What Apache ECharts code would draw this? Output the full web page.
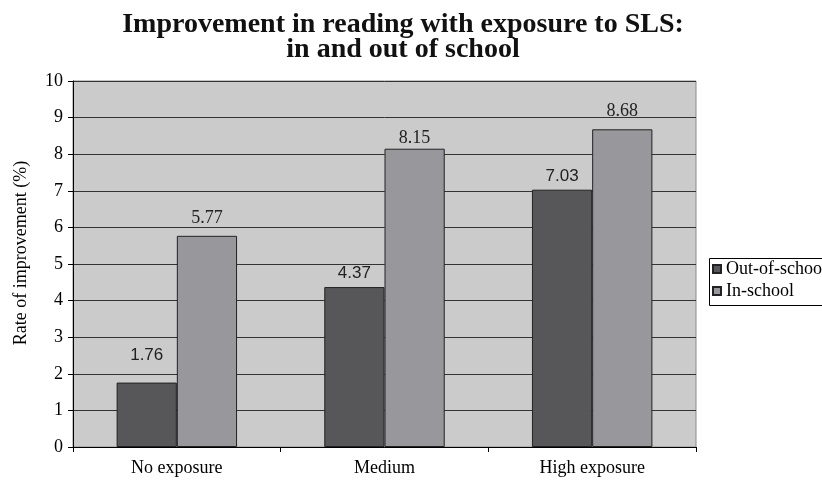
<!DOCTYPE html>
<html><head><meta charset="utf-8">
<script src="https://cdn.jsdelivr.net/npm/echarts@6/dist/echarts.min.js"></script>
<style>html,body{margin:0;padding:0;background:#fff;overflow:hidden}#c{width:822px;height:481px}</style>
</head><body><div id="c"></div>
<script>
const categories = ['No exposure', 'Medium', 'High exposure'];
const outOfSchool = [1.76, 4.37, 7.03];
const inSchool = [5.77, 8.15, 8.68];
const seriesNames = ['Out-of-school', 'In-school'];

const serif = '"Liberation Serif", "Times New Roman", serif';
const sans = '"Liberation Sans", Arial, sans-serif';
const chart = echarts.init(document.getElementById('c'));
chart.setOption({
  animation: false,
  backgroundColor: '#fff',
  title: {
    text: 'Improvement in reading with exposure to SLS:\nin and out of school',
    left: 398, top: 7, textAlign: 'center',
    textStyle: { fontFamily: serif, fontWeight: 'bold', fontSize: 28, color: '#111', lineHeight: 25 }
  },
  graphic: [{
    type: 'rect', left: 707, top: 256, z: 100, silent: true,
    shape: { width: 140, height: 47 },
    style: { fill: 'none', stroke: '#000', lineWidth: 1 }
  }],
  legend: {
    orient: 'vertical', left: 707, top: 256,
    icon: 'rect', itemWidth: 8, itemHeight: 8, itemGap: 4,
    borderWidth: 0, padding: [4, 2, 4, 5],
    textStyle: { fontFamily: serif, fontSize: 18, color: '#000' },
    data: seriesNames
  },
  grid: { left: 73, right: 126, top: 81, bottom: 34, show: true, backgroundColor: '#cbcbcb', borderColor: '#8a8a8a', borderWidth: 1 },
  xAxis: {
    type: 'category', data: categories,
    axisLine: { lineStyle: { color: '#000', width: 1 } },
    axisTick: { show: true, length: 5, lineStyle: { color: '#000' } },
    axisLabel: { fontFamily: serif, fontSize: 18, color: '#000', margin: 12 }
  },
  yAxis: {
    type: 'value', min: 0, max: 10, interval: 1,
    name: 'Rate of improvement (%)', nameLocation: 'middle', nameGap: 43,
    nameTextStyle: { fontFamily: serif, fontSize: 18, color: '#000', padding: [0, 0, 0, 22] },
    axisLine: { show: true, lineStyle: { color: '#000' } },
    axisTick: { show: true, length: 5, lineStyle: { color: '#000' } },
    axisLabel: { fontFamily: serif, fontSize: 18, color: '#000', margin: 10 },
    splitLine: { lineStyle: { color: '#333', width: 1 } }
  },
  series: [
    {
      name: seriesNames[0], type: 'bar',
      data: outOfSchool.map((v, i) => i === 0 ? { value: v, label: { offset: [0, -14] } } : v),
      barGap: '0%', barCategoryGap: '42%',
      itemStyle: { color: '#57575a', borderColor: '#222', borderWidth: 1 },
      label: { show: true, position: 'top', distance: 5, fontFamily: sans, fontSize: 17, color: '#222' }
    },
    {
      name: seriesNames[1], type: 'bar',
      data: inSchool.map((v, i) => i === 1 ? { value: v, label: { offset: [0, 8] } } : v),
      barGap: '0%', barCategoryGap: '42%',
      itemStyle: { color: '#98989c', borderColor: '#222', borderWidth: 1 },
      label: { show: true, position: 'top', distance: 9, fontFamily: serif, fontSize: 18, color: '#222' }
    }
  ]
});
</script></body></html>
